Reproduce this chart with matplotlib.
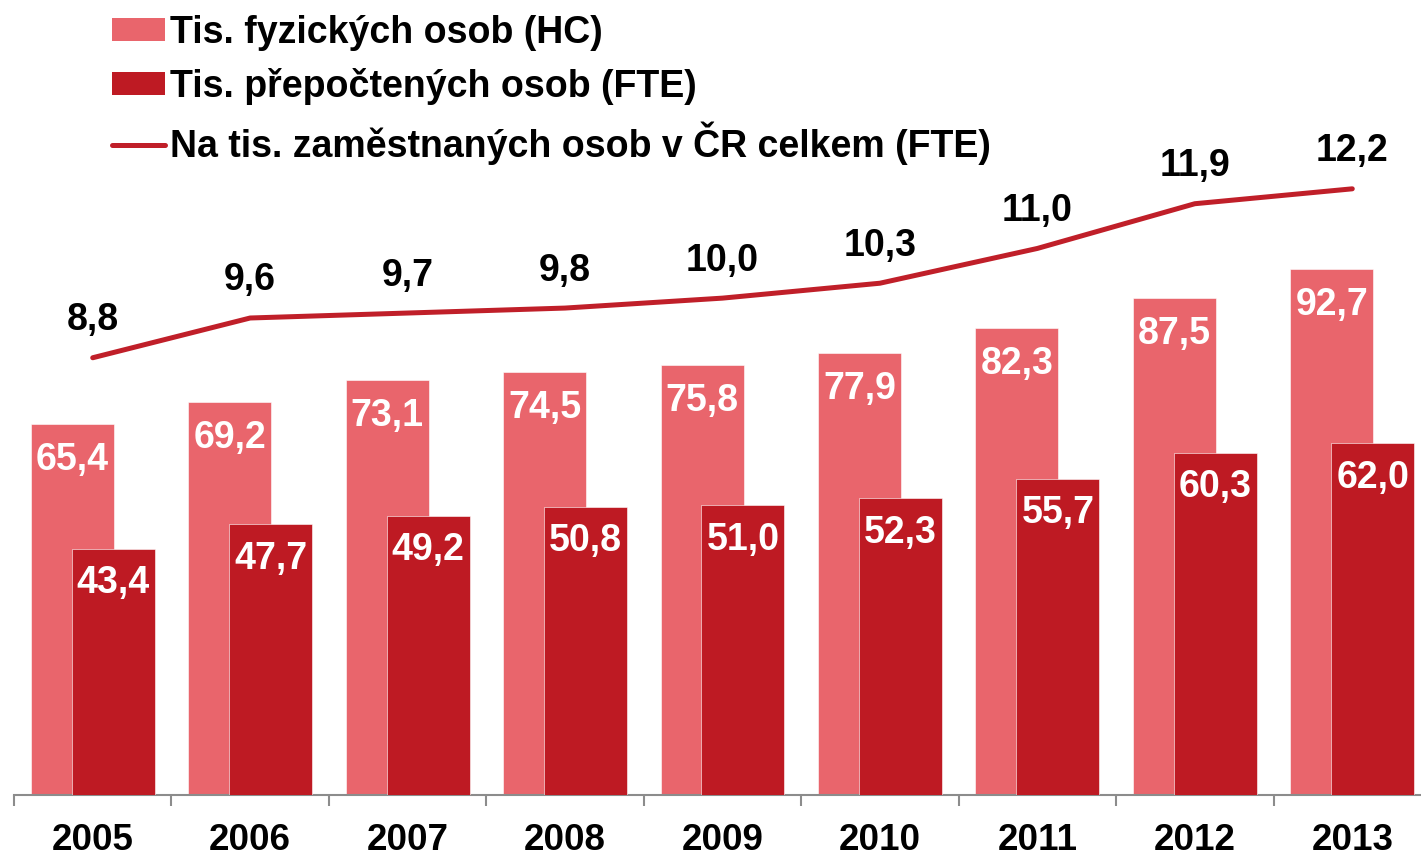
#!/usr/bin/env python3
"""Research staff in the Czech Republic, 2005-2013.

Head count (HC) and full-time equivalents (FTE) as bars, plus FTE per
thousand employed persons as a line on a secondary axis.
"""

from __future__ import annotations

import matplotlib
matplotlib.use("Agg")
import matplotlib.pyplot as plt
from matplotlib.lines import Line2D
from matplotlib.patches import Patch
import numpy as np

years = ["2005", "2006", "2007", "2008", "2009", "2010", "2011", "2012", "2013"]
hc_values = [65.4, 69.2, 73.1, 74.5, 75.8, 77.9, 82.3, 87.5, 92.7]
fte_values = [43.4, 47.7, 49.2, 50.8, 51.0, 52.3, 55.7, 60.3, 62.0]
per_thousand = [8.8, 9.6, 9.7, 9.8, 10.0, 10.3, 11.0, 11.9, 12.2]

labels = [
    "Tis. fyzických osob (HC)",
    "Tis. přepočtených osob (FTE)",
    "Na tis. zaměstnaných osob v ČR celkem (FTE)",
]

HC_COLOR = "#E9656C"
FTE_COLOR = "#BE1A23"
LINE_COLOR = "#C01F29"
AXIS_COLOR = "#8C8C8C"
FONT = "Liberation Sans"


def fmt(v: float) -> str:
    """Czech decimal comma."""
    return f"{v:.1f}".replace(".", ",")


def main() -> None:
    plt.rcParams["font.family"] = [FONT, "DejaVu Sans"]
    plt.rcParams["font.weight"] = "bold"

    W, H = 1421, 856
    fig = plt.figure(figsize=(W / 100, H / 100), dpi=100)
    ax = fig.add_axes([14 / W, 61 / H, 1417 / W, 795 / H])

    x = np.arange(len(years))
    width = 0.527
    off = 0.13

    ax.bar(x - off, hc_values, width, color=HC_COLOR, edgecolor="white",
           linewidth=0.4, zorder=2)
    ax.bar(x + off, fte_values, width, color=FTE_COLOR, edgecolor="white",
           linewidth=0.4, zorder=3)

    for xi, v in zip(x, hc_values):
        ax.annotate(fmt(v), (xi - off, v), xytext=(0, -26), textcoords="offset points",
                    ha="center", va="center", color="white", fontsize=27,
                    fontweight="bold", zorder=5)
    for xi, v in zip(x, fte_values):
        ax.annotate(fmt(v), (xi + off, v), xytext=(0, -25), textcoords="offset points",
                    ha="center", va="center", color="white", fontsize=27,
                    fontweight="bold", zorder=5)

    ax.set_xlim(-0.5, len(years) - 0.5)
    ax.set_ylim(0, 140)
    ax.set_yticks([])
    for side in ("left", "right", "top"):
        ax.spines[side].set_visible(False)
    ax.spines["bottom"].set_color(AXIS_COLOR)
    ax.spines["bottom"].set_linewidth(1.5)

    ax.set_xticks(x)
    ax.set_xticklabels(years, fontsize=26.5, fontweight="bold")
    ax.tick_params(axis="x", which="major", length=0, pad=20)
    ax.set_xticks(np.arange(len(years) + 1) - 0.5, minor=True)
    ax.tick_params(axis="x", which="minor", length=8, width=1.5, color=AXIS_COLOR,
                   direction="out")

    ax2 = ax.twinx()
    ax2.set_ylim(0, 16)
    ax2.set_yticks([])
    for side in ("left", "right", "top", "bottom"):
        ax2.spines[side].set_visible(False)
    ax2.plot(x, per_thousand, color=LINE_COLOR, linewidth=3.6,
             solid_capstyle="round", solid_joinstyle="round", zorder=4)
    for xi, v in zip(x, per_thousand):
        ax2.annotate(fmt(v), (xi, v), xytext=(0, 27), textcoords="offset points",
                     ha="center", va="center", color="black", fontsize=27,
                     fontweight="bold")

    handles = [
        Patch(facecolor=HC_COLOR, edgecolor="none"),
        Patch(facecolor=FTE_COLOR, edgecolor="none"),
        Line2D([], [], color=LINE_COLOR, linewidth=3.6, solid_capstyle="round"),
    ]
    fig.legend(handles, labels, loc="upper left", bbox_to_anchor=(112 / W, 1 - 15 / H),
               frameon=False, prop={"family": FONT, "weight": "bold", "size": 27},
               handlelength=1.4, handleheight=0.55, handletextpad=0.15,
               labelspacing=0.45, borderaxespad=0, borderpad=0)

    fig.savefig("out.png", dpi=100)
    plt.close(fig)


if __name__ == "__main__":
    main()
